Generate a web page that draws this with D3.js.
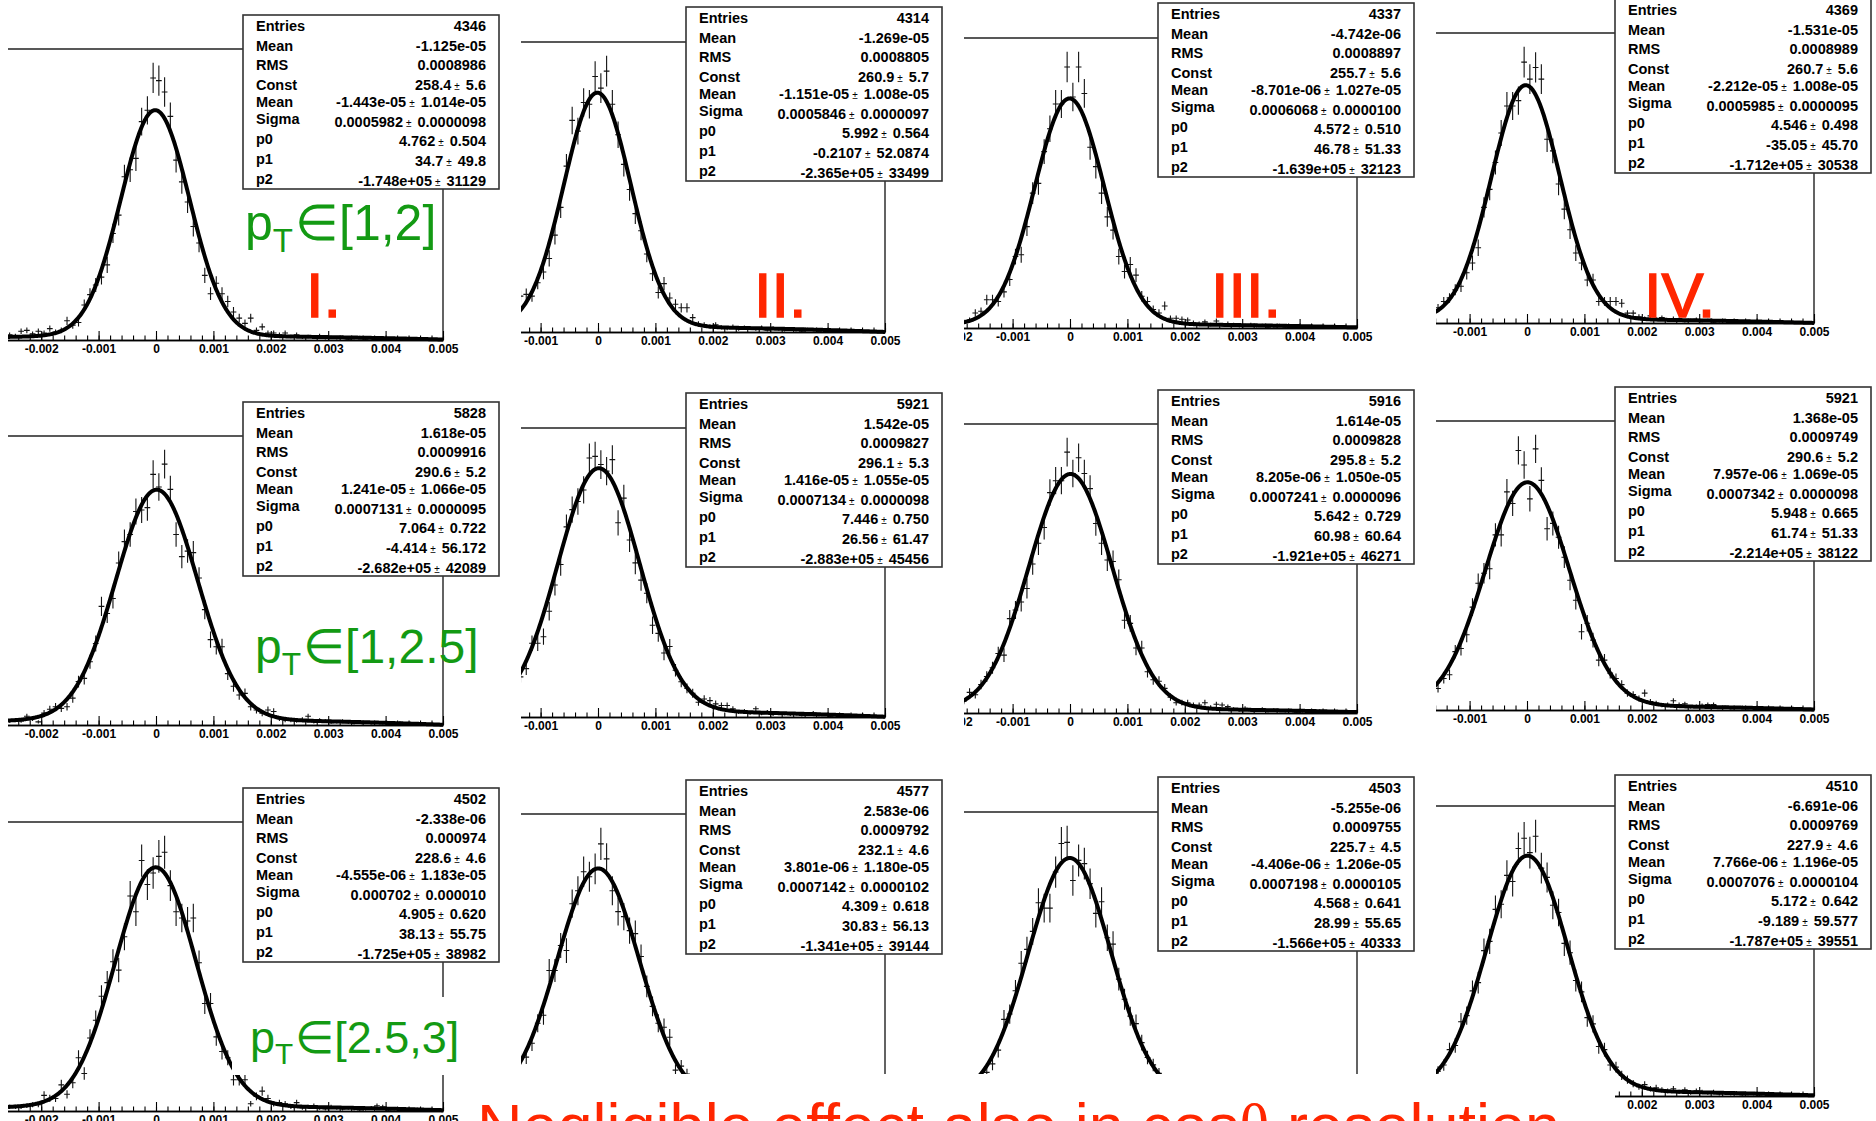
<!DOCTYPE html>
<html>
<head>
<meta charset="utf-8">
<script src="https://cdn.jsdelivr.net/npm/d3@7"></script>
<style>
html,body{margin:0;padding:0;background:#fff;}
svg{display:block;}
</style>
</head>
<body>
<svg id="chart" width="1876" height="1121"></svg>
<script>
// ---------------- DATA ----------------
const binWidth = 0.0001;
const xDomain = [-0.005, 0.005];
// low edge of first listed bin, per column (left part of each plot is cropped)
const colLow = [-0.0026, -0.0014, -0.0019, -0.0016];
const colLabels = ["I.", "II.", "III.", "IV."];
const rowRanges = ["[1,2]", "[1,2.5]", "[2.5,3]"];
const bottomNote = ["Negligible effect also in cos", "\u03b8", " resolution"];
const statNames = ["Entries", "Mean", "RMS", "Const", "Mean", "Sigma", "p0", "p1", "p2"];

// bin contents (row: pT range, column: I..IV)
const counts_pt12_I = [6,5,10,11,7,10,8,13,9,11,22,17,20,40,52,63,72,86,122,143,187,195,208,250,263,300,297,284,256,206,181,158,130,111,74,53,65,53,44,32,25,19,25,11,15,8,8,6,8,4,6,3,4,3,5,2,3,2,3,1,2,3,1,2,1,2,1,1,2,0,1,1,0,1,0,1];
const counts_pt12_II = [40,42,40,55,67,82,108,139,185,236,224,256,254,285,272,291,254,220,187,159,132,113,87,65,44,54,38,31,27,27,16,9,8,6,8,5,4,6,3,5,4,3,5,2,4,3,2,3,2,1,3,2,1,2,1,1,2,0,1,1,0,1,0,1];
const counts_pt12_III = [7,9,17,19,32,32,30,41,55,81,83,115,153,164,200,226,254,254,296,262,296,266,205,183,153,126,111,81,64,72,60,36,30,21,17,25,11,11,10,9,6,5,7,4,8,3,5,4,2,3,4,2,3,1,2,3,1,2,1,2,0,1,2,1,0,1,1,0,1];
const counts_pt12_IV = [17,24,28,37,41,56,67,84,129,149,179,212,242,242,248,291,272,285,272,205,192,155,127,104,78,67,48,48,24,24,24,24,22,11,11,7,5,8,4,6,3,5,4,2,3,4,2,3,1,2,3,1,2,1,1,2,0,1,1,0,1,0,1,0,0,1];
const counts_pt125_I = [5,6,5,11,8,4,15,20,23,21,23,34,55,59,80,103,150,141,160,205,232,241,270,272,275,317,301,330,298,241,213,220,218,186,146,108,99,99,65,49,38,40,23,19,15,19,17,8,6,6,5,7,11,4,6,5,3,4,5,3,2,4,3,2,3,2,1,2,3,1,2,1,1,0,1,1];
const counts_pt125_II = [49,59,90,90,98,129,161,186,232,253,263,277,316,318,308,300,314,237,267,216,188,167,151,112,102,78,86,57,43,35,29,18,22,20,16,14,14,10,6,7,5,10,4,6,3,5,4,3,4,2,3,5,2,3,1,2,2,1,2,1,0,1,1,0];
const counts_pt125_III = [15,26,23,36,46,57,75,73,119,130,140,157,188,214,234,278,293,293,329,302,322,302,283,239,214,193,191,168,117,113,82,82,52,42,40,31,20,13,13,13,10,10,13,7,11,10,8,5,4,6,3,4,5,2,4,3,2,3,1,2,2,1,3,1,0,2,1,0,1];
const counts_pt125_IV = [28,41,46,76,80,98,134,165,178,184,228,228,284,269,338,319,275,340,299,236,243,225,199,169,143,102,113,91,65,65,48,41,33,22,20,15,22,11,9,6,7,12,7,8,4,5,6,7,7,3,4,2,3,4,2,3,1,2,1,2,1,0,1,1,0,1];
const counts_pt253_I = [4,4,4,5,6,6,15,12,12,25,16,27,51,36,70,87,110,123,143,135,167,206,191,240,217,228,244,248,216,191,185,182,185,142,103,103,71,57,51,30,30,30,7,14,19,12,7,8,7,4,8,3,4,5,3,2,4,3,2,3,2,1,2,3,5,4,1,2,1,0,1,2,0,1,0,1];
const counts_pt253_II = [46,47,61,81,89,134,134,159,154,201,214,233,228,236,261,246,214,193,188,174,171,148,118,98,81,77,67,34,38,30,22,17,14,11,9,8,6,7,5,4,6,3,5,4,3,2,4,3,2,3,1,2,2,1,3,1,2,1,0,1,1,0,1,0];
const counts_pt253_III = [10,14,18,22,28,36,49,78,83,105,131,144,161,188,183,183,217,244,245,209,228,225,206,178,189,155,149,116,97,81,74,56,42,35,27,21,15,13,9,8,7,5,6,4,5,3,4,3,2,4,2,3,1,2,3,1,2,1,1,2,0,1,1,0,1,1,0,0,1];
const counts_pt253_IV = [24,30,45,49,72,78,102,110,141,150,181,186,214,208,240,250,236,252,221,212,185,178,148,139,112,101,76,70,48,45,30,28,20,16,12,9,11,7,8,6,5,7,4,6,3,5,4,3,4,2,3,2,3,1,2,2,1,2,1,0,1,1,0,1,0,1];

const histCounts = [
  counts_pt12_I, counts_pt12_II, counts_pt12_III, counts_pt12_IV,
  counts_pt125_I, counts_pt125_II, counts_pt125_III, counts_pt125_IV,
  counts_pt253_I, counts_pt253_II, counts_pt253_III, counts_pt253_IV
];

// statistics boxes (panel order: row by row)
const entries = ["4346","4314","4337","4369","5828","5921","5916","5921","4502","4577","4503","4510"];
const histMean = ["-1.125e-05","-1.269e-05","-4.742e-06","-1.531e-05","1.618e-05","1.542e-05","1.614e-05","1.368e-05","-2.338e-06","2.583e-06","-5.255e-06","-6.691e-06"];
const histRMS = ["0.0008986","0.0008805","0.0008897","0.0008989","0.0009916","0.0009827","0.0009828","0.0009749","0.000974","0.0009792","0.0009755","0.0009769"];
const fitConst = [["258.4","5.6"],["260.9","5.7"],["255.7","5.6"],["260.7","5.6"],["290.6","5.2"],["296.1","5.3"],["295.8","5.2"],["290.6","5.2"],["228.6","4.6"],["232.1","4.6"],["225.7","4.5"],["227.9","4.6"]];
const fitMean = [["-1.443e-05","1.014e-05"],["-1.151e-05","1.008e-05"],["-8.701e-06","1.027e-05"],["-2.212e-05","1.008e-05"],["1.241e-05","1.066e-05"],["1.416e-05","1.055e-05"],["8.205e-06","1.050e-05"],["7.957e-06","1.069e-05"],["-4.555e-06","1.183e-05"],["3.801e-06","1.180e-05"],["-4.406e-06","1.206e-05"],["7.766e-06","1.196e-05"]];
const fitSigma = [["0.0005982","0.0000098"],["0.0005846","0.0000097"],["0.0006068","0.0000100"],["0.0005985","0.0000095"],["0.0007131","0.0000095"],["0.0007134","0.0000098"],["0.0007241","0.0000096"],["0.0007342","0.0000098"],["0.000702","0.000010"],["0.0007142","0.0000102"],["0.0007198","0.0000105"],["0.0007076","0.0000104"]];
const fitP0 = [["4.762","0.504"],["5.992","0.564"],["4.572","0.510"],["4.546","0.498"],["7.064","0.722"],["7.446","0.750"],["5.642","0.729"],["5.948","0.665"],["4.905","0.620"],["4.309","0.618"],["4.568","0.641"],["5.172","0.642"]];
const fitP1 = [["34.7","49.8"],["-0.2107","52.0874"],["46.78","51.33"],["-35.05","45.70"],["-4.414","56.172"],["26.56","61.47"],["60.98","60.64"],["61.74","51.33"],["38.13","55.75"],["30.83","56.13"],["28.99","55.65"],["-9.189","59.577"]];
const fitP2 = [["-1.748e+05","31129"],["-2.365e+05","33499"],["-1.639e+05","32123"],["-1.712e+05","30538"],["-2.682e+05","42089"],["-2.883e+05","45456"],["-1.921e+05","46271"],["-2.214e+05","38122"],["-1.725e+05","38982"],["-1.341e+05","39144"],["-1.566e+05","40333"],["-1.787e+05","39551"]];

// ---------------- LAYOUT ----------------
const layoutCols = [
  {clipL: 8, xR: 443, boxX: 243},
  {clipL: 521, xR: 885, boxX: 686},
  {clipL: 964, xR: 1357, boxX: 1158},
  {clipL: 1436, xR: 1814, boxX: 1615}
];
const layoutPanels = [
  {axis: 340, top: 49, boxTop: 15}, {axis: 332, top: 42, boxTop: 7}, {axis: 328, top: 38, boxTop: 3}, {axis: 323, top: 33, boxTop: -1},
  {axis: 725, top: 436, boxTop: 402}, {axis: 717, top: 428, boxTop: 393}, {axis: 713, top: 424, boxTop: 390}, {axis: 710, top: 421, boxTop: 387},
  {axis: 1111, top: 822, boxTop: 788}, {axis: 1104, top: 814, boxTop: 780}, {axis: 1102, top: 812, boxTop: 777}, {axis: 1096, top: 806, boxTop: 775}
];
const cover = {x0: 468, x1: 1615, y0: 1074, y1: 1121};
const plotWidth = 574;     // pixels for the full x range
const boxW = 256, boxH = 174;
const valueBase = [16, 36, 55, 75, 92, 112, 131, 151, 171];
const labelBase = [16, 36, 55, 75, 92, 109, 129, 149, 169];
const FONT = "'Liberation Sans', Arial, Helvetica, sans-serif";
const RED = "#ff2600", GREEN = "#139a13";

const svg = d3.select("#chart");
const defs = svg.append("defs");
const fmt = d => Math.abs(d) < 1e-12 ? "0" : d.toFixed(3);

histCounts.forEach((counts, i) => {
  const c = i % 4;
  const cg = layoutCols[c], pg = layoutPanels[i];
  const x = d3.scaleLinear().domain(xDomain).range([cg.xR - plotWidth, cg.xR]);
  const lo = colLow[c];
  const bins = counts.map((v, k) => ({x0: lo + k * binWidth, x1: lo + (k + 1) * binWidth, v}));
  const ymax = 1.05 * d3.max(counts, v => v + Math.sqrt(v));
  const y = d3.scaleLinear().domain([0, ymax]).range([pg.axis, pg.top]);

  defs.append("clipPath").attr("id", "fr" + i).append("rect")
    .attr("x", cg.clipL).attr("y", pg.top)
    .attr("width", cg.xR - cg.clipL).attr("height", pg.axis - pg.top + 2);
  defs.append("clipPath").attr("id", "ax" + i).append("rect")
    .attr("x", cg.clipL).attr("y", pg.top)
    .attr("width", 1876 - cg.clipL).attr("height", 1121 - pg.top);

  const g = svg.append("g");
  // frame (top + right)
  g.append("path")
    .attr("d", `M${cg.clipL},${pg.top}H${cg.xR}V${pg.axis}`)
    .attr("fill", "none").attr("stroke", "#222").attr("stroke-width", 1.4);

  // data points with errors
  g.append("g").attr("clip-path", `url(#fr${i})`)
    .selectAll("path").data(bins.filter(b => b.v > 0)).join("path")
    .attr("d", b => {
      const e = Math.sqrt(b.v), xm = x((b.x0 + b.x1) / 2);
      return `M${x(b.x0)},${y(b.v)}H${x(b.x1)}M${xm},${y(b.v - e)}V${y(b.v + e)}`;
    })
    .attr("fill", "none").attr("stroke", "#111").attr("stroke-width", 1.1);

  // fit: gaus + pol2
  const C = +fitConst[i][0], M = +fitMean[i][0], S = +fitSigma[i][0];
  const P0 = +fitP0[i][0], P1 = +fitP1[i][0], P2 = +fitP2[i][0];
  const f = t => C * Math.exp(-0.5 * ((t - M) / S) ** 2) + P0 + P1 * t + P2 * t * t;
  const xs = d3.range(0, 801).map(j => xDomain[0] + j * (xDomain[1] - xDomain[0]) / 800);
  g.append("path").attr("clip-path", `url(#fr${i})`).datum(xs)
    .attr("d", d3.line().x(t => x(t)).y(t => y(f(t))))
    .attr("fill", "none").attr("stroke", "#000").attr("stroke-width", 4)
    .attr("stroke-linejoin", "round");

  // axis: only labels that are not fully cropped or hidden
  const labelY = pg.axis + 13;
  const majors = x.ticks(10);
  const shown = majors.filter(t => {
    const px = x(t);
    if (px + 16 < cg.clipL) return false;
    if (labelY - 9 > cover.y0 && px + 16 > cover.x0 && px - 16 < cover.x1) return false;
    return true;
  });
  const ag = g.append("g").attr("clip-path", `url(#ax${i})`);
  ag.append("g").attr("transform", `translate(0,${pg.axis})`)
    .call(d3.axisBottom(x).ticks(50).tickSize(-4.5).tickSizeOuter(0).tickFormat(""));
  ag.append("g").attr("transform", `translate(0,${pg.axis})`)
    .call(d3.axisBottom(x).tickValues(majors).tickSize(-9).tickSizeOuter(0).tickFormat(""));
  ag.append("g").attr("transform", `translate(0,${pg.axis})`)
    .call(d3.axisBottom(x).tickValues(shown).tickSize(0).tickSizeOuter(0).tickPadding(4.5).tickFormat(fmt))
    .call(a => a.select(".domain").remove());
  ag.selectAll(".domain").attr("stroke", "#000").attr("stroke-width", 1.6);
  ag.selectAll(".tick line").attr("stroke", "#000").attr("stroke-width", 1.1);
  ag.selectAll(".tick text").attr("fill", "#000")
    .attr("font-family", FONT).attr("font-size", 12).attr("font-weight", "bold");

  // stats box
  const bx = cg.boxX, by = pg.boxTop;
  const sb = g.append("g").attr("font-family", FONT).attr("font-size", 14.5).attr("font-weight", "bold").attr("fill", "#000");
  sb.append("rect").attr("x", bx).attr("y", by).attr("width", boxW).attr("height", boxH)
    .attr("fill", "#fff").attr("stroke", "#333").attr("stroke-width", 1.6);
  const rows = [[entries[i]], [histMean[i]], [histRMS[i]], fitConst[i], fitMean[i], fitSigma[i], fitP0[i], fitP1[i], fitP2[i]];
  rows.forEach((vals, j) => {
    sb.append("text").attr("x", bx + 13).attr("y", by + labelBase[j]).text(statNames[j]);
    const t = sb.append("text").attr("x", bx + boxW - 13).attr("y", by + valueBase[j]).attr("text-anchor", "end");
    t.append("tspan").text(vals[0]);
    if (vals.length > 1) {
      t.append("tspan").attr("font-size", 10).attr("font-weight", "normal").attr("dx", 3).text("\u00b1");
      t.append("tspan").attr("dx", 6).text(vals[1]);
    }
  });
});

// roman numerals
const numeralPos = [[306, 317], [754, 317], [1211, 317], [1644, 317]];
colLabels.forEach((s, c) => {
  svg.append("text").attr("x", numeralPos[c][0]).attr("y", numeralPos[c][1])
    .attr("font-family", FONT).attr("font-size", 63).attr("fill", RED)
    .attr("stroke", RED).attr("stroke-width", 1.5).text(s);
});

// pT range labels
const rangePos = [{x: 245, y: 240, fs: 50}, {x: 255, y: 663, fs: 48}, {x: 250, y: 1053, fs: 45}];
svg.append("rect").attr("x", 232).attr("y", 997).attr("width", 215).attr("height", 78).attr("fill", "#fff");
rowRanges.forEach((s, r) => {
  const p = rangePos[r];
  const t = svg.append("text").attr("x", p.x).attr("y", p.y)
    .attr("font-family", FONT).attr("font-size", p.fs).attr("fill", GREEN);
  t.append("tspan").text("p");
  t.append("tspan").attr("font-size", p.fs * 0.66).attr("dy", p.fs * 0.24).text("T");
  t.append("tspan").attr("dy", -p.fs * 0.24).attr("dx", 2).text("\u2208" + s);
});

// white cover at the bottom and the note
svg.append("rect").attr("x", cover.x0).attr("y", cover.y0).attr("width", cover.x1 - cover.x0).attr("height", cover.y1 - cover.y0).attr("fill", "#fff");
const note = svg.append("text").attr("x", 477).attr("y", 1148)
  .attr("font-family", FONT).attr("font-size", 63).attr("fill", RED);
note.append("tspan").text(bottomNote[0]);
note.append("tspan").attr("font-family", "'Liberation Serif', 'DejaVu Serif', serif").text(bottomNote[1]);
note.append("tspan").text(bottomNote[2]);
</script>
</body>
</html>
